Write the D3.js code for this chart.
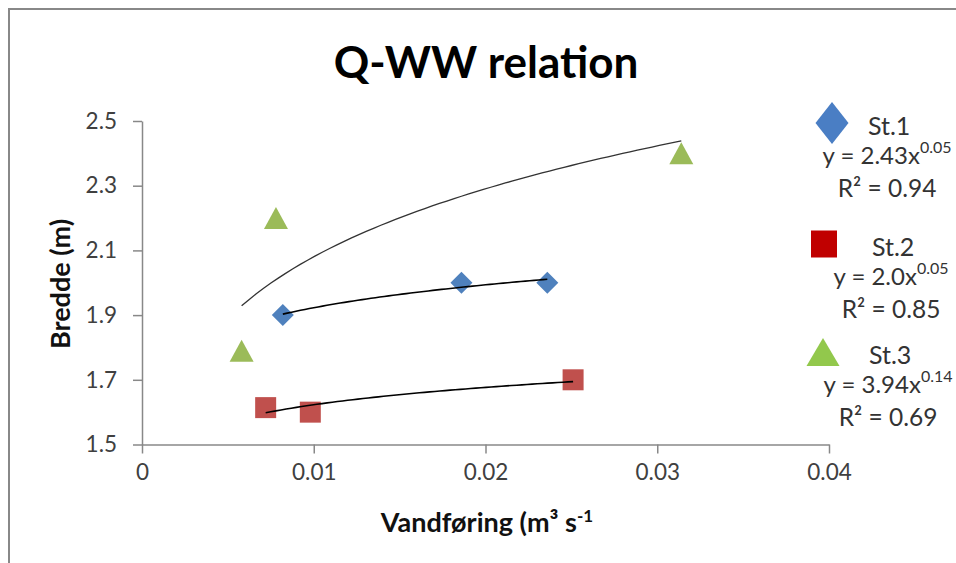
<!DOCTYPE html>
<html>
<head>
<meta charset="utf-8">
<script src="https://cdn.jsdelivr.net/npm/d3@7"></script>
<style>
  body { margin: 0; background: #fff; }
  svg { display: block; font-family: Lato, "Open Sans", sans-serif; }
</style>
</head>
<body>
<svg id="chart"></svg>
<script>
"use strict";

var width  = 956,
    height = 563;

// data
var st1_q = [0.0082, 0.0186, 0.0236],
    st1_w = [1.90, 2.00, 2.00];
var st2_q = [0.0072, 0.0098, 0.0251],
    st2_w = [1.614, 1.60, 1.70];
var st3_q = [0.0058, 0.0078, 0.0314],
    st3_w = [1.79, 2.20, 2.40];

var x_ticks = [0, 0.01, 0.02, 0.03, 0.04],
    y_ticks = [1.5, 1.7, 1.9, 2.1, 2.3, 2.5];

var series_names = ["St.1", "St.2", "St.3"],
    eq_coef  = ["2.43", "2.0", "3.94"],
    eq_exp   = ["0.05", "0.05", "0.14"],
    r2_text  = ["0.94", "0.85", "0.69"];


var chart = d3.select("#chart")
              .attr("width", width)
              .attr("height", height);

// outer chart frame (runs off the right and bottom edges)
chart.append("rect")
     .attr("x", 9).attr("y", 9)
     .attr("width", width + 20).attr("height", height + 20)
     .style("fill", "#fff")
     .style("stroke", "#888")
     .style("stroke-width", 2);

var x = d3.scaleLinear().domain([0, 0.04]).range([142, 829]);
var y = d3.scaleLinear().domain([1.5, 2.5]).range([444.5, 121]);

// axes
var xAxis = chart.append("g")
    .attr("transform", "translate(0," + y(1.5) + ")")
    .call(d3.axisBottom(x).tickValues(x_ticks).tickSize(9).tickSizeOuter(0).tickPadding(11)
            .tickFormat(function(d) { return d === 0 ? "0" : d3.format(".2f")(d); }));

var yAxis = chart.append("g")
    .attr("transform", "translate(" + x(0) + ",0)")
    .call(d3.axisLeft(y).tickValues(y_ticks).tickSize(9).tickSizeOuter(0).tickPadding(16)
            .tickFormat(d3.format(".1f")));

chart.selectAll(".domain, .tick line")
     .style("stroke", "#888")
     .style("stroke-width", 1.5);
chart.selectAll(".tick text")
     .style("font-family", "Lato, sans-serif")
     .style("font-size", "22.5px")
     .style("fill", "#404040");

// titles
chart.append("text")
     .attr("x", 486).attr("y", 78)
     .attr("text-anchor", "middle")
     .style("font-size", "44px")
     .style("font-weight", "bold")
     .style("fill", "#000")
     .text("Q-WW relation");

chart.append("text")
     .attr("transform", "translate(70, 284) rotate(-90)")
     .attr("text-anchor", "middle")
     .style("font-size", "27px")
     .style("font-weight", "bold")
     .style("fill", "#111")
     .text("Bredde (m)");

var xt = chart.append("text")
     .attr("x", 487).attr("y", 532)
     .attr("text-anchor", "middle")
     .style("font-size", "27px")
     .style("font-weight", "bold")
     .style("fill", "#111");
xt.append("tspan").text("Vandføring (m³ s");
xt.append("tspan").attr("dy", -10).style("font-size", "17px").text("-1");


// marker shapes
function diamond(w, h) {
    return "M0," + (-h/2) + "L" + (w/2) + ",0L0," + (h/2) + "L" + (-w/2) + ",0Z";
}
function square(w, h) {
    return "M" + (-w/2) + "," + (-h/2) + "h" + w + "v" + h + "h" + (-w) + "Z";
}
function triangle(w, h) {
    return "M0," + (-h/2) + "L" + (w/2) + "," + (h/2) + "L" + (-w/2) + "," + (h/2) + "Z";
}

// Excel style power trendline: log-log least squares
function powerFit(xs, ys) {
    var lx = xs.map(Math.log), ly = ys.map(Math.log);
    var mx = d3.mean(lx), my = d3.mean(ly);
    var sxy = d3.sum(lx, function(d, i) { return (d - mx) * (ly[i] - my); });
    var sxx = d3.sum(lx, function(d) { return (d - mx) * (d - mx); });
    var b = sxy / sxx;
    return { a: Math.exp(my - b * mx), b: b };
}

var series = [
    { q: st1_q, w: st1_w, color: "#4F81BD", shape: diamond(22, 22) },
    { q: st2_q, w: st2_w, color: "#C0504D", shape: square(21, 21) },
    { q: st3_q, w: st3_w, color: "#9BBB59", shape: triangle(24, 22) }
];

var trendLine = d3.line()
    .x(function(d) { return x(d[0]); })
    .y(function(d) { return y(d[1]); });

series.forEach(function(s, k) {
    var fit = powerFit(s.q, s.w);
    var q0 = d3.min(s.q), q1 = d3.max(s.q);
    var pts = d3.range(0, 61).map(function(i) {
        var q = q0 + (q1 - q0) * i / 60;
        return [q, fit.a * Math.pow(q, fit.b)];
    });

    chart.append("g").attr("class", "points")
        .selectAll("path")
        .data(s.q.map(function(d, i) { return [d, s.w[i]]; }))
        .enter().append("path")
            .attr("d", s.shape)
            .attr("transform", function(d) { return "translate(" + x(d[0]) + "," + y(d[1]) + ")"; })
            .style("fill", s.color);

    chart.append("path")
         .datum(pts)
         .attr("d", trendLine)
         .style("fill", "none")
         .style("stroke", k === 2 ? "#333" : "#000")
         .style("stroke-width", k === 2 ? 1.3 : 1.6);
});


// legend
var legend_y = [123, 244, 352];
var legend_shapes = [
    { d: diamond(33, 42), color: "#4A7EC4", x: 832 },
    { d: square(26, 27),  color: "#C00000", x: 824 },
    { d: triangle(33, 28), color: "#92C84C", x: 823 }
];
var legend_cx = [887, 891, 888];

series_names.forEach(function(name, i) {
    var g = chart.append("g").attr("class", "legend");
    var top = legend_y[i];

    g.append("path")
     .attr("d", legend_shapes[i].d)
     .attr("transform", "translate(" + legend_shapes[i].x + "," + top + ")")
     .style("fill", legend_shapes[i].color);

    g.append("text")
     .attr("x", legend_cx[i]).attr("y", top + 12)
     .style("font-size", "25px").style("fill", "#333")
     .attr("text-anchor", "start")
     .attr("dx", -19)
     .text(name);

    var eq = g.append("text")
     .attr("x", legend_cx[i]).attr("y", top + 41)
     .attr("text-anchor", "middle")
     .style("font-size", "24px").style("fill", "#333");
    eq.append("tspan").text("y = " + eq_coef[i] + "x");
    eq.append("tspan").attr("dy", -11).style("font-size", "16px").text(eq_exp[i]);

    g.append("text")
     .attr("x", legend_cx[i]).attr("y", top + 74)
     .attr("text-anchor", "middle")
     .style("font-size", "24.5px").style("fill", "#333")
     .text("R² = " + r2_text[i]);
});
</script>
</body>
</html>
